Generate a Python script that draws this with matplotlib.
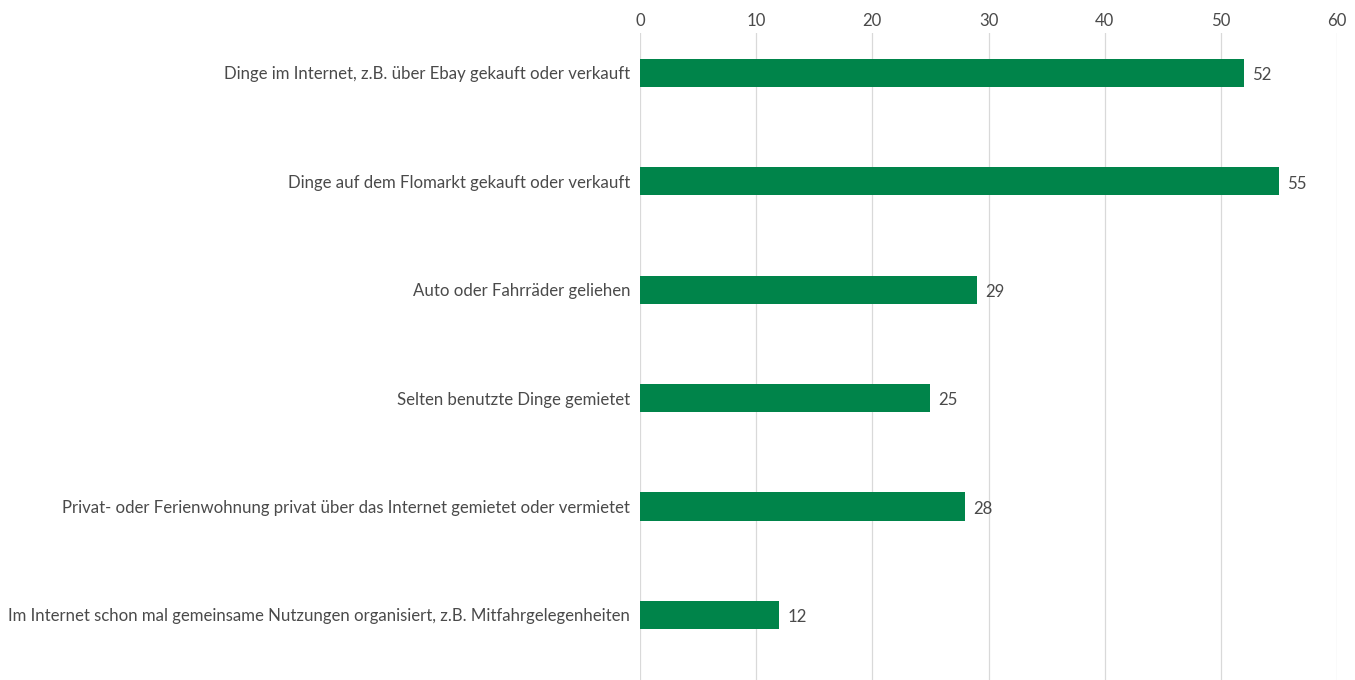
import matplotlib.pyplot as plt

categories = [
    'Dinge im Internet, z.B. über Ebay gekauft oder verkauft',
    'Dinge auf dem Flomarkt gekauft oder verkauft',
    'Auto oder Fahrräder geliehen',
    'Selten benutzte Dinge gemietet',
    'Privat- oder Ferienwohnung privat über das Internet gemietet oder vermietet',
    'Im Internet schon mal gemeinsame Nutzungen organisiert, z.B. Mitfahrgelegenheiten',
]
values = [52, 55, 29, 25, 28, 12]
xticks = [0, 10, 20, 30, 40, 50, 60]

plt.rcParams['font.family'] = ['Lato', 'DejaVu Sans']
txt = '#4a4a4a'
fs = 12.05

fig = plt.figure(figsize=(13.55, 6.8), dpi=100)
ax = fig.add_axes([640 / 1355, 0, 697 / 1355, 1 - 33 / 680])

pos = list(range(len(categories)))
ax.barh(pos, values, height=0.26, color='#00844A', zorder=3)
for p, v in zip(pos, values):
    ax.text(v + 0.7, p + 0.02, str(v), va='center', ha='left', fontsize=fs, color=txt)

ax.set_xlim(0, 60)
ax.set_ylim(5.6, -0.369)
ax.set_xticks(xticks)
ax.xaxis.tick_top()
ax.set_yticks(pos)
ax.set_yticklabels(categories)
ax.tick_params(axis='both', length=0, labelsize=fs, colors=txt)
ax.tick_params(axis='x', pad=3)
ax.tick_params(axis='y', pad=7)
ax.grid(axis='x', color='#D9D9D9', linewidth=0.9, zorder=0)
for s in ax.spines.values():
    s.set_visible(False)

fig.savefig('out.png', dpi=100)
